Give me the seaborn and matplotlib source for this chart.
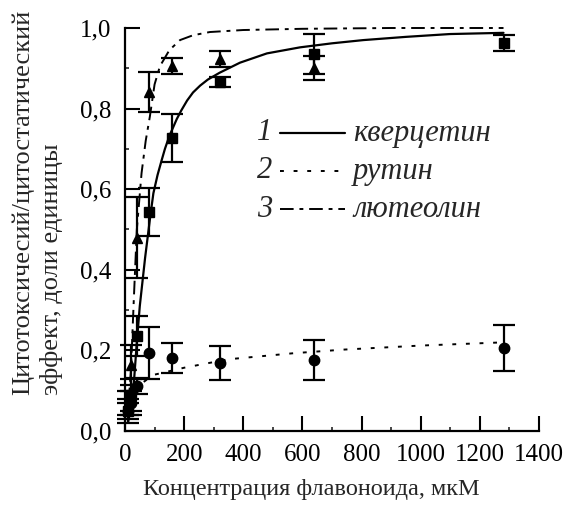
import numpy as np
import pandas as pd
import matplotlib
matplotlib.use("Agg")
import matplotlib.pyplot as plt
from matplotlib.ticker import MultipleLocator, FuncFormatter
import seaborn as sns

# ---- data ----
conc = [10, 20, 40, 80, 160, 320, 640, 1280]

querc_y = [0.05, 0.09, 0.235, 0.543, 0.727, 0.866, 0.935, 0.963]
querc_err = [0.03, 0.04, 0.05, 0.06, 0.06, 0.012, 0.05, 0.02]

rutin_y = [0.05, 0.07, 0.112, 0.194, 0.182, 0.169, 0.176, 0.205]
rutin_err = [0.02, 0.03, 0.02, 0.065, 0.037, 0.042, 0.05, 0.057]

lut_conc = [10, 20, 40, 80, 160, 320, 640]
lut_y = [0.07, 0.164, 0.48, 0.842, 0.906, 0.923, 0.90]
lut_err = [0.03, 0.05, 0.1, 0.05, 0.02, 0.02, 0.03]

# fitted curves, points
querc_fit_x = [10, 20, 30, 40, 50, 56, 68, 85, 96, 110, 124, 135, 150, 175, 190, 210, 230, 254, 280, 320, 389, 480, 592, 700, 806, 950, 1099, 1280]
querc_fit_y = [0.02, 0.06, 0.12, 0.22, 0.31, 0.35, 0.43, 0.53, 0.59, 0.635, 0.672, 0.70, 0.732, 0.774, 0.795, 0.82, 0.84, 0.857, 0.872, 0.889, 0.914, 0.937, 0.952, 0.962, 0.970, 0.978, 0.985, 0.988]

rutin_fit_x = [10, 20, 40, 60, 95, 200, 350, 570, 740, 1000, 1280]
rutin_fit_y = [0.03, 0.06, 0.10, 0.12, 0.139, 0.157, 0.178, 0.193, 0.202, 0.212, 0.22]

lut_fit_x = [10, 20, 30, 40, 56, 70, 84, 100, 118, 150, 186, 230, 287, 400, 600, 900, 1280]
lut_fit_y = [0.05, 0.15, 0.33, 0.50, 0.64, 0.72, 0.78, 0.86, 0.905, 0.945, 0.97, 0.982, 0.99, 0.995, 0.998, 1.0, 1.0]

xticks = [0, 200, 400, 600, 800, 1000, 1200, 1400]
yticks = [0.0, 0.2, 0.4, 0.6, 0.8, 1.0]

legend_nums = ["1", "2", "3"]
legend_names = ["кверцетин", "рутин", "лютеолин"]

# ---- style ----
sns.set_style("ticks")
plt.rcParams["font.family"] = ["Liberation Serif", "DejaVu Serif"]

fig = plt.figure(figsize=(5.71, 5.11), dpi=100)
ax = fig.add_axes([125 / 571, 1 - 431 / 511, 414 / 571, 403 / 511])

fits = pd.concat([
    pd.DataFrame({"x": querc_fit_x, "y": querc_fit_y, "s": "q"}),
    pd.DataFrame({"x": rutin_fit_x, "y": rutin_fit_y, "s": "r"}),
    pd.DataFrame({"x": lut_fit_x, "y": lut_fit_y, "s": "l"}),
])

sns.lineplot(data=fits[fits.s == "q"], x="x", y="y", color="black", lw=1.6, ax=ax, clip_on=False)
sns.lineplot(data=fits[fits.s == "r"], x="x", y="y", color="black", lw=1.4, ax=ax, clip_on=False)
ax.lines[-1].set_dashes((2, 5))
sns.lineplot(data=fits[fits.s == "l"], x="x", y="y", color="black", lw=1.4, ax=ax, clip_on=False)
ax.lines[-1].set_dashes((7, 3, 2, 3))

ebkw = dict(color="black", ecolor="black", elinewidth=1.6, capsize=8, capthick=1.6, ls="none", clip_on=False)
ax.errorbar(conc, rutin_y, yerr=rutin_err, marker="o", ms=7.5, **ebkw)
ax.errorbar(conc, querc_y, yerr=querc_err, marker="s", ms=6.5, **ebkw)
ax.errorbar(lut_conc, lut_y, yerr=lut_err, marker="^", ms=7.5, **ebkw)

ax.set_xlim(0, 1400)
ax.set_ylim(0, 1.0)
ax.set_xticks(xticks)
ax.set_yticks(yticks)
ax.xaxis.set_minor_locator(MultipleLocator(100))
ax.yaxis.set_minor_locator(MultipleLocator(0.1))
ax.yaxis.set_major_formatter(FuncFormatter(lambda v, p: f"{v:.1f}".replace(".", ",")))
ax.xaxis.set_major_formatter(FuncFormatter(lambda v, p: f"{int(v)}"))
ax.tick_params(which="major", direction="in", length=11, width=1.5, labelsize=18, colors="black")
ax.tick_params(axis="x", which="major", pad=9)
ax.tick_params(axis="y", which="major", pad=10)
ax.tick_params(which="minor", direction="in", length=3, width=1.2)
for s in ["top", "right"]:
    ax.spines[s].set_visible(False)
for s in ["left", "bottom"]:
    ax.spines[s].set_linewidth(1.6)
    ax.spines[s].set_color("black")
ax.set_xlabel("")
ax.set_ylabel("")

fig.text(311 / 571, 1 - 490 / 511, "Концентрация флавоноида, мкМ", ha="center", va="center", fontsize=17.5)
fig.text(23 / 571, 1 - 395 / 511, "Цитотоксичесий/цитостатический", rotation=90, ha="center", va="bottom", fontsize=19)
fig.text(52 / 571, 1 - 395 / 511, "эффект, доли единицы", rotation=90, ha="center", va="bottom", fontsize=19)

# legend (manual)
rows_y = [133, 171, 209]
for i, (num, name) in enumerate(zip(legend_nums, legend_names)):
    yy = (431 - rows_y[i]) / 403
    ax.text((265 - 125) / 414, yy, num, transform=ax.transAxes, ha="center", va="center", fontsize=22, style="italic")
    ln, = ax.plot([(280 - 125) / 414, (345 - 125) / 414], [yy, yy], transform=ax.transAxes, color="black",
                  lw=1.6 if i == 0 else 1.4, clip_on=False)
    if i == 1:
        ln.set_dashes((2, 5))
    if i == 2:
        ln.set_dashes((7, 3, 2, 3))
    ax.text((353 - 125) / 414, yy, name, transform=ax.transAxes, ha="left", va="center", fontsize=22, style="italic")

fig.savefig("out.png", dpi=100)
